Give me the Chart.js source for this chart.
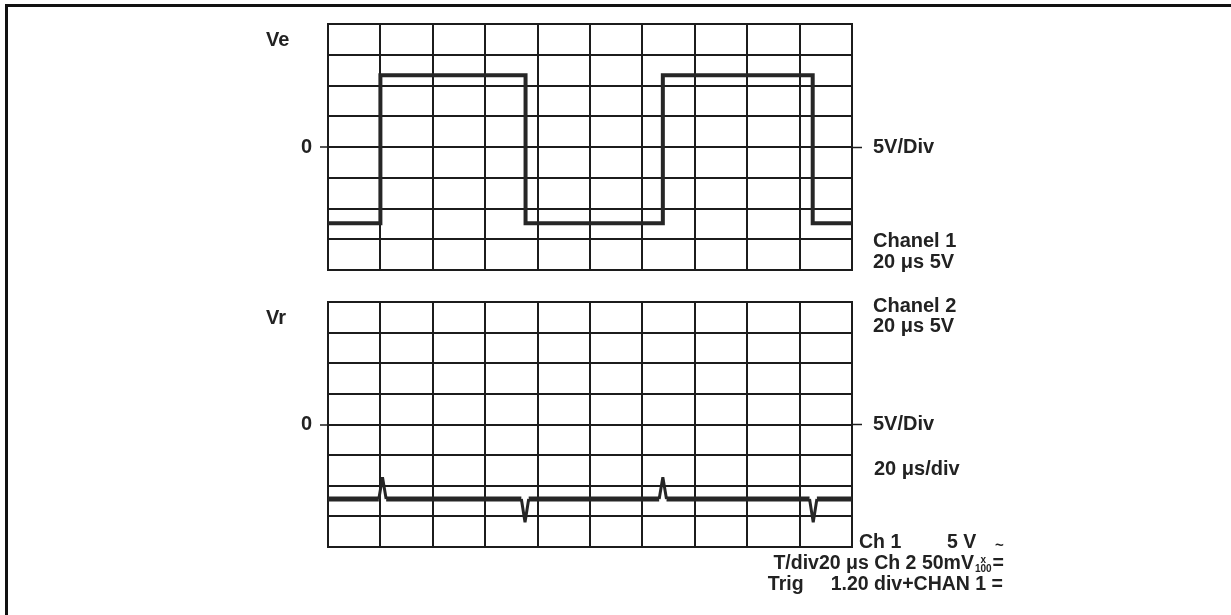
<!DOCTYPE html>
<html>
<head>
<meta charset="utf-8">
<script src="https://cdn.jsdelivr.net/npm/chart.js@4.4.1/dist/chart.umd.min.js"></script>
<style>
  html, body { margin: 0; padding: 0; background: #fff; }
  body { width: 1231px; height: 615px; position: relative; overflow: hidden;
         font-family: "Liberation Sans", Arial, Helvetica, sans-serif; color: #222; }
  .frame { position: absolute; left: 5px; top: 4px; width: 1240px; height: 640px;
           border-top: 3px solid #111; border-left: 3px solid #111; }
  canvas { position: absolute; left: 0; }
  .t { position: absolute; font-weight: bold; font-size: 20px; line-height: 20px;
       white-space: pre; color: #222; }
  .s { font-size: 19.5px; }
  .frac { display: inline-block; vertical-align: -3px; font-size: 10px; line-height: 9px;
          text-align: center; margin: 0 1px; }
</style>
</head>
<body>
<div class="frame"></div>
<canvas id="top" width="1231" height="294" style="top:0px"></canvas>
<canvas id="bot" width="1231" height="293" style="top:278px"></canvas>

<div class="t" style="left:266px; top:29px">Ve</div>
<div class="t" style="left:266px; top:307px">Vr</div>
<div class="t" style="left:873px; top:230px">Chanel 1</div>
<div class="t" style="left:873px; top:251px">20 μs 5V</div>
<div class="t" style="left:873px; top:295px">Chanel 2</div>
<div class="t" style="left:873px; top:315px">20 μs 5V</div>
<div class="t" style="left:874px; top:458px">20 μs/div</div>
<div class="t s" style="left:859px; top:531px">Ch 1</div>
<div class="t s" style="left:947px; top:531px">5 V</div>
<div class="t" style="left:995px; top:535px; font-size:15px">~</div>
<div class="t s" style="right:227px; top:552px">T/div20 μs Ch 2 50mV<span class="frac">x<br>100</span>=</div>
<div class="t s" style="right:228px; top:573px">Trig     1.20 div+CHAN 1 =</div>

<script>
// ---- data (in divisions: x = time div, y = volt div) ----
const veTime  = [0, 1.00, 1.00, 3.77, 3.77, 6.39, 6.39, 9.25, 9.25, 10];
const veLevel = [-2.48, -2.48, 2.33, 2.33, -2.48, -2.48, 2.33, 2.33, -2.48, -2.48];

const vrTime  = [0, 0.97, 1.04, 1.11, 3.69, 3.76, 3.83, 6.32, 6.39, 6.46, 9.19, 9.26, 9.33, 10];
const vrLevel = [-2.43, -2.43, -1.72, -2.43, -2.43, -3.19, -2.43, -2.43, -1.72, -2.43, -2.43, -3.19, -2.43, -2.43];

const xDivs = [0, 10];
const yDivs = [-4, 4];
const leftLabel  = '0';
const rightLabel = '5V/Div';

const GRID = '#1c1c1c';
Chart.defaults.font.family = '"Liberation Sans", Arial, Helvetica, sans-serif';
Chart.defaults.font.size = 20;
Chart.defaults.font.weight = 'bold';
Chart.defaults.color = '#222';

function makeChart(id, xs, ys, thin) {
  const pts = xs.map((x, i) => ({ x: x, y: ys[i] }));
  return new Chart(document.getElementById(id), {
    type: 'line',
    data: { datasets: [{
      data: pts,
      borderColor: '#262626',
      borderWidth: thin ? 4.5 : 4,
      pointRadius: 0,
      tension: 0,
      borderJoinStyle: thin ? 'bevel' : 'miter',
      segment: thin ? {
        borderWidth: c => (c.p0.parsed.y === c.p1.parsed.y ? 5 : 3)
      } : undefined
    }]},
    options: {
      responsive: false,
      animation: false,
      devicePixelRatio: 1,
      events: [],
      layout: { padding: { top: 24, bottom: 24, left: 0, right: 0 } },
      plugins: { legend: { display: false }, tooltip: { enabled: false } },
      scales: {
        x: {
          type: 'linear', min: xDivs[0], max: xDivs[1],
          ticks: { display: false, stepSize: 1 },
          grid: { color: GRID, lineWidth: 2, drawTicks: false },
          border: { display: false },
          afterFit: s => { s.height = 0; }
        },
        y: {
          position: 'left', min: yDivs[0], max: yDivs[1],
          ticks: { stepSize: 1, padding: 8, callback: v => (v === 0 ? leftLabel : '') },
          grid: { color: GRID, lineWidth: 2, tickLength: 8,
                  tickColor: c => (c.tick && c.tick.value === 0 ? GRID : 'rgba(0,0,0,0)'),
                  tickWidth: 1.5 },
          border: { display: true, color: GRID, width: 2 },
          afterFit: s => { s.width = 328; }
        },
        y2: {
          position: 'right', min: yDivs[0], max: yDivs[1],
          ticks: { stepSize: 1, padding: 11, callback: v => (v === 0 ? rightLabel : '') },
          grid: { drawOnChartArea: false, tickLength: 10,
                  tickColor: c => (c.tick && c.tick.value === 0 ? GRID : 'rgba(0,0,0,0)'),
                  tickWidth: 1.5 },
          border: { display: true, color: GRID, width: 2 },
          afterFit: s => { s.width = 1231 - 852; }
        }
      }
    }
  });
}

makeChart('top', veTime, veLevel, false);
makeChart('bot', vrTime, vrLevel, true);
</script>
</body>
</html>
